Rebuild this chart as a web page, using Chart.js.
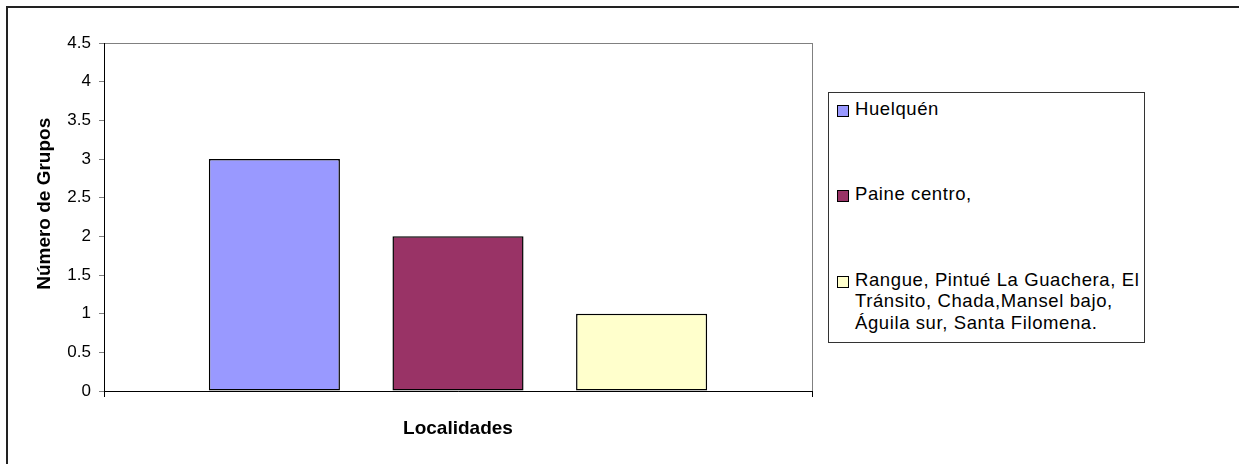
<!DOCTYPE html>
<html>
<head>
<meta charset="utf-8">
<script src="https://cdn.jsdelivr.net/npm/chart.js@4"></script>
<style>
  body { margin: 0; background: #fff; overflow: hidden; }
  #wrap { position: relative; width: 1239px; height: 464px; overflow: hidden; }
  #frame { position: absolute; left: 6px; top: 6px; width: 1400px; height: 600px;
           border-left: 2px solid #222; border-top: 2px solid #222; }
  #legend {
    position: absolute; left: 828px; top: 92px; width: 317px; height: 251px;
    border: 1px solid #333; background: #fff; box-sizing: border-box;
    display: flex; flex-direction: column; justify-content: space-between;
    padding: 5px 0 9px 0;
    font-family: 'Liberation Sans', Arial, sans-serif; font-size: 18.5px; letter-spacing: 0.6px;
    line-height: 21.5px; color: #000;
  }
  .item { display: flex; align-items: flex-start; white-space: nowrap; }
  .swatch { width: 10px; height: 10px; border: 1px solid #000; margin: 7px 6px 0 8px; flex: none; }
</style>
</head>
<body>
<div id="wrap">
  <canvas id="myChart" width="1239" height="464"></canvas>
  <div id="frame"></div>
  <div id="legend"></div>
</div>
<script>
// series (one bar each, single category)
var seriesNames = [
    ['Huelquén'],
    ['Paine centro,'],
    ['Rangue, Pintué La Guachera, El', 'Tránsito, Chada,Mansel bajo,', 'Águila sur, Santa Filomena.']
]
var seriesValues = [3, 2, 1]
var seriesColors = ['#9999FF', '#993366', '#FFFFCC']
var categories = ['']
var yTickLabels = ['0', '0.5', '1', '1.5', '2', '2.5', '3', '3.5', '4', '4.5']

Chart.defaults.font.family = "'Liberation Sans', Arial, sans-serif";
Chart.defaults.color = '#000';

// gray plot area frame, drawn before the axes so they sit on top
var plotFrame = {
    id: 'plotFrame',
    beforeDraw: function (c) {
        var a = c.chartArea, ctx = c.ctx;
        ctx.save();
        ctx.strokeStyle = '#808080';
        ctx.lineWidth = 1;
        ctx.strokeRect(a.left + 0.5, a.top + 0.5, a.right - a.left, a.bottom - a.top);
        ctx.restore();
    }
}

var datasets = []
for (let i = 0; i < seriesValues.length; i++) {
    datasets.push({
        label: seriesNames[i].join(' '),
        data: [seriesValues[i]],
        backgroundColor: seriesColors[i],
        borderColor: '#000',
        borderWidth: 1.5,
        borderSkipped: false,
        categoryPercentage: 0.778,
        barPercentage: 0.714
    })
}

var chart = new Chart(document.getElementById('myChart'), {
    type: 'bar',
    data: { labels: categories, datasets: datasets },
    plugins: [plotFrame],
    options: {
        responsive: false,
        animation: false,
        events: [],
        layout: { padding: { left: 0, top: 43, right: 427, bottom: 0 } },
        plugins: { legend: { display: false }, tooltip: { enabled: false } },
        scales: {
            x: {
                offset: true,
                afterFit: function (s) { s.height = 73; },
                grid: { offset: true, drawOnChartArea: false, drawTicks: true, tickLength: 6, color: '#000' },
                border: { color: '#000', width: 1 },
                ticks: { display: false },
                title: {
                    display: true, text: 'Localidades', color: '#000',
                    font: { size: 19, weight: 'bold' },
                    padding: { top: 0, bottom: 24 }
                }
            },
            y: {
                min: 0,
                max: 4.5,
                afterFit: function (s) { s.width = 104; },
                grid: { drawOnChartArea: false, drawTicks: true, tickLength: 5, color: '#808080' },
                border: { color: '#000', width: 1 },
                ticks: {
                    stepSize: 0.5, padding: 8, color: '#000', font: { size: 17 },
                    callback: function (v, i) { return yTickLabels[i]; }
                },
                title: {
                    display: true, text: '\u00A0\u00A0\u00A0\u00A0\u00A0Número de Grupos', color: '#000',
                    font: { size: 19, weight: 'bold' },
                    padding: { top: 33, bottom: 0 }
                }
            }
        }
    }
});

// html legend built from the chart's datasets
var legend = document.getElementById('legend');
chart.data.datasets.forEach(function (ds, i) {
    var item = document.createElement('div');
    item.className = 'item';
    var sw = document.createElement('span');
    sw.className = 'swatch';
    sw.style.background = ds.backgroundColor;
    var txt = document.createElement('span');
    seriesNames[i].forEach(function (line, k) {
        if (k) txt.appendChild(document.createElement('br'));
        txt.appendChild(document.createTextNode(line));
    });
    item.appendChild(sw);
    item.appendChild(txt);
    legend.appendChild(item);
});
</script>
</body>
</html>
